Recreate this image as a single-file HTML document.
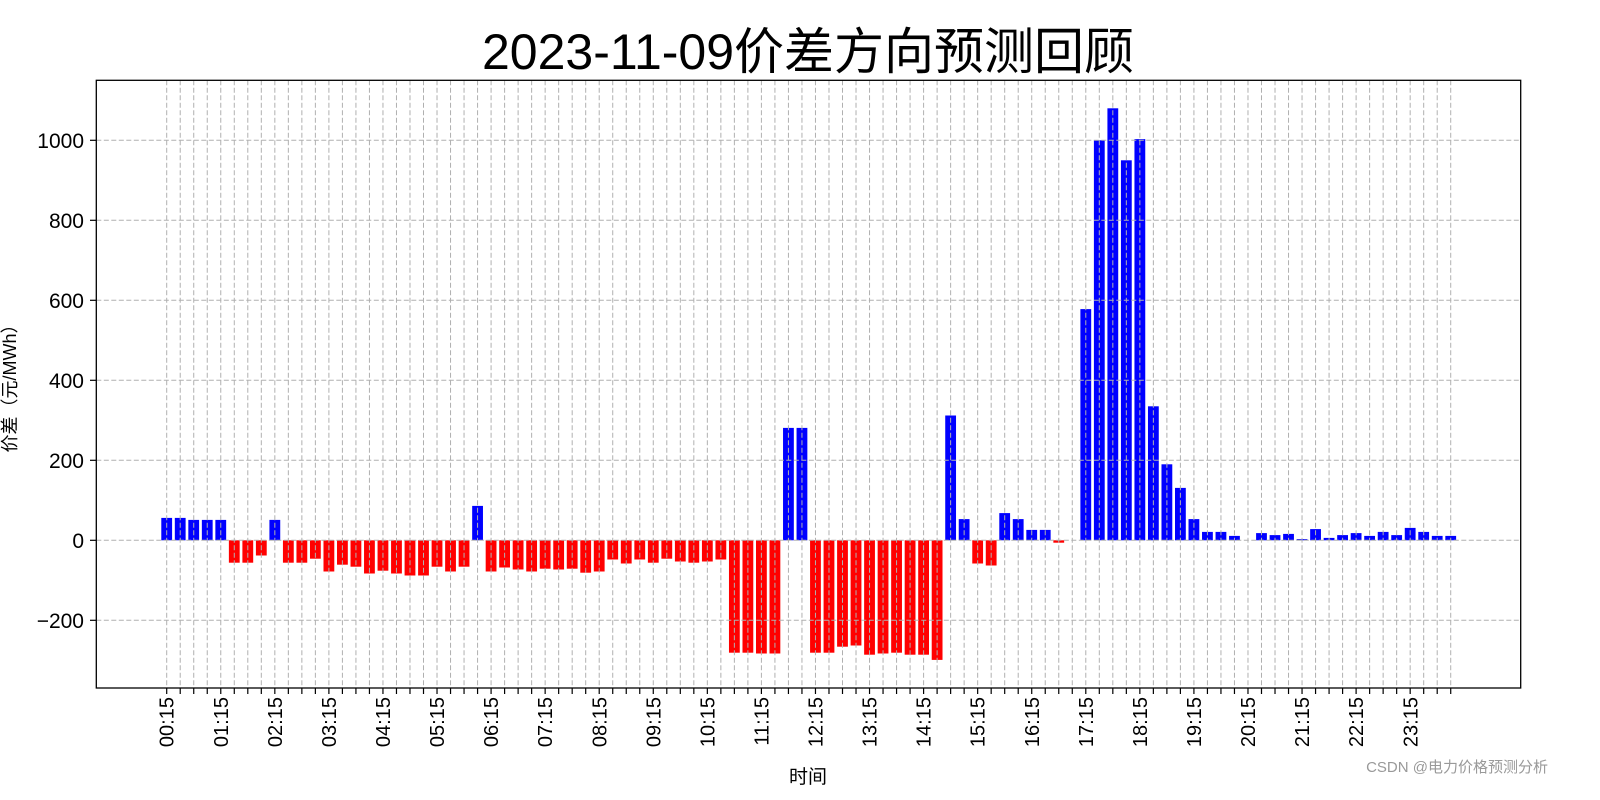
<!DOCTYPE html>
<html><head><meta charset="utf-8"><style>body{margin:0;background:#fff}svg{display:block}text{font-family:"Liberation Sans","Noto Sans CJK SC",sans-serif}</style></head>
<body>
<svg id="s" width="1600" height="800" xmlns="http://www.w3.org/2000/svg">
<rect width="1600" height="800" fill="#fff"/>
<g id="bars"></g>
<g id="grid" stroke="#b0b0b0" stroke-width="1" stroke-dasharray="5,2.5"></g>
<rect x="96.3" y="80.3" width="1424.4" height="607.7" fill="none" stroke="#000" stroke-width="1.3"/>
<g id="ticks" stroke="#000" stroke-width="1.2"></g>
<text x="808" y="69" font-size="50" text-anchor="middle">2023-11-09价差方向预测回顾</text>
<g font-size="21" text-anchor="end">
<text x="84" y="628">−200</text>
<text x="84" y="548">0</text>
<text x="84" y="468">200</text>
<text x="84" y="388">400</text>
<text x="84" y="308">600</text>
<text x="84" y="228">800</text>
<text x="84" y="148">1000</text>
</g>
<text transform="translate(16,384) rotate(-90)" font-size="18" text-anchor="middle">价差（元/MWh）</text>
<g id="xl" font-size="20" text-anchor="end">
<text transform="translate(173.7,697) rotate(-90)">00:15</text>
<text transform="translate(227.8,697) rotate(-90)">01:15</text>
<text transform="translate(281.8,697) rotate(-90)">02:15</text>
<text transform="translate(335.9,697) rotate(-90)">03:15</text>
<text transform="translate(390,697) rotate(-90)">04:15</text>
<text transform="translate(444,697) rotate(-90)">05:15</text>
<text transform="translate(498.1,697) rotate(-90)">06:15</text>
<text transform="translate(552.2,697) rotate(-90)">07:15</text>
<text transform="translate(606.3,697) rotate(-90)">08:15</text>
<text transform="translate(660.3,697) rotate(-90)">09:15</text>
<text transform="translate(714.4,697) rotate(-90)">10:15</text>
<text transform="translate(768.5,697) rotate(-90)">11:15</text>
<text transform="translate(822.5,697) rotate(-90)">12:15</text>
<text transform="translate(876.6,697) rotate(-90)">13:15</text>
<text transform="translate(930.7,697) rotate(-90)">14:15</text>
<text transform="translate(984.7,697) rotate(-90)">15:15</text>
<text transform="translate(1038.8,697) rotate(-90)">16:15</text>
<text transform="translate(1092.9,697) rotate(-90)">17:15</text>
<text transform="translate(1146.9,697) rotate(-90)">18:15</text>
<text transform="translate(1201,697) rotate(-90)">19:15</text>
<text transform="translate(1255.1,697) rotate(-90)">20:15</text>
<text transform="translate(1309.1,697) rotate(-90)">21:15</text>
<text transform="translate(1363.2,697) rotate(-90)">22:15</text>
<text transform="translate(1417.3,697) rotate(-90)">23:15</text>
</g>
<text x="808" y="783" font-size="19" text-anchor="middle">时间</text>
<text x="1548" y="772" font-size="15" fill="#999" text-anchor="end">CSDN @电力价格预测分析</text>
</svg>
<script>
var v=[56,56,51,51,51,-56,-56,-38,51,-56,-56,-46,-78,-61,-66,-83,-76,-83,-88,-88,-66,-78,-66,86,-78,-68,-73,-78,-71,-73,-71,-81,-78,-48,-58,-48,-56,-46,-53,-56,-53,-48,-281,-281,-283,-283,281,281,-281,-281,-266,-263,-286,-283,-281,-286,-286,-299,312,53,-58,-63,68,53,26,26,-6,0,578,1000,1080,950,1003,335,190,131,53,21,21,11,0,18,13,16,3,28,6,13,18,11,21,13,31,21,11,11];
var NS="http://www.w3.org/2000/svg",b=document.getElementById('bars'),g=document.getElementById('grid'),t=document.getElementById('ticks');
function el(p,tag,a){var e=document.createElementNS(NS,tag);for(var k in a)e.setAttribute(k,a[k]);p.appendChild(e);}
var z=540.3,s=0.4;
for(var i=0;i<96;i++){var x=166.7+i*13.516,val=v[i],h=Math.abs(val)*s;
 if(val!==0) el(b,'rect',{x:x-5.4,y:val>0?z-h:z,width:10.8,height:Math.max(h,1),fill:val>0?'#0000ff':'#ff0000'});
 el(g,'line',{x1:x,y1:80.3,x2:x,y2:688});
 el(t,'line',{x1:x,y1:688,x2:x,y2:694});}
for(var k=-200;k<=1000;k+=200){var y=z-k*s;el(g,'line',{x1:96.3,y1:y,x2:1520.7,y2:y});el(t,'line',{x1:90,y1:y,x2:96.3,y2:y});}
</script>
</body></html>
